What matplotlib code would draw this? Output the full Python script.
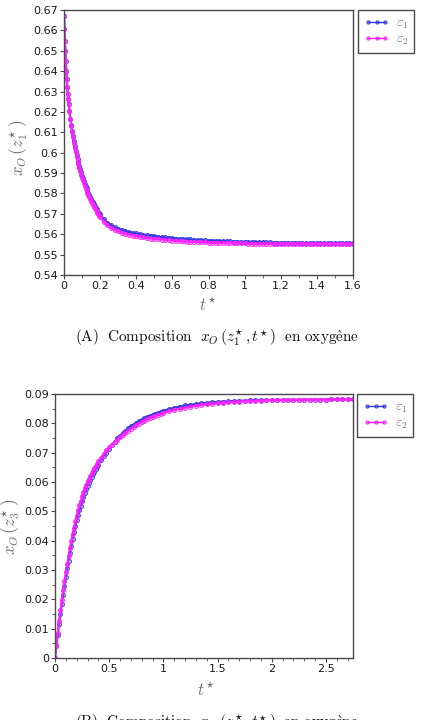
import matplotlib
matplotlib.use("Agg")
import matplotlib.pyplot as plt
from matplotlib.ticker import MultipleLocator, FuncFormatter

plt.rcParams['mathtext.fontset'] = 'cm'
plt.rcParams['font.family'] = ['DejaVu Sans']

# ---------------- data: panel (A) ----------------
t_top = [0, 0.0025, 0.005, 0.0075, 0.01, 0.0125, 0.015, 0.0175, 0.02, 0.0225, 0.025,
         0.03, 0.035, 0.04, 0.045, 0.05, 0.055, 0.06, 0.065, 0.07, 0.075, 0.08, 0.085,
         0.09, 0.095, 0.10, 0.105, 0.11, 0.115, 0.12, 0.125, 0.13, 0.135, 0.14, 0.145,
         0.15, 0.155, 0.16, 0.165, 0.17, 0.175, 0.18, 0.185, 0.19, 0.195, 0.20,
         0.22, 0.24, 0.26, 0.28, 0.30, 0.32, 0.34, 0.36, 0.38, 0.40,
         0.42, 0.44, 0.46, 0.48, 0.50,
         0.52, 0.54, 0.56, 0.58, 0.60, 0.62, 0.64, 0.66, 0.68, 0.70,
         0.72, 0.74, 0.76, 0.78, 0.80, 0.82, 0.84, 0.86, 0.88, 0.90,
         0.92, 0.94, 0.96, 0.98, 1.00, 1.02, 1.04, 1.06, 1.08, 1.10,
         1.12, 1.14, 1.16, 1.18, 1.20, 1.22, 1.24, 1.26, 1.28, 1.30,
         1.32, 1.34, 1.36, 1.38, 1.40, 1.42, 1.44,
         1.46, 1.48, 1.50, 1.52, 1.54, 1.56, 1.58, 1.60]

eps1_top = [.6670, .6605, .6550, .6497, .6450, .6403, .6360, .6323, .6290, .6264, .6241,
            .6206, .6167, .6137, .6107, .6081, .6055, .6031, .6009, .5989, .5969, .5951, .5934,
            .5919, .5903, .5888, .5874, .5861, .5848, .5836, .5825, .5814, .5803, .5793, .5783,
            .5774, .5765, .5756, .5747, .5739, .5731, .5724, .5717, .5710, .5703, .5697,
            .5675, .5657, .5645, .5635, .5628, .5621, .5616, .5611, .5607, .5604,
            .5601, .5598, .5595, .5593, .5591,
            .5588, .5586, .5584, .5582, .5581, .5579, .5578, .5577, .5576, .5575,
            .5573, .5572, .5571, .5570, .5569, .5569, .5568, .5567, .5567, .5566,
            .5565, .5564, .5564, .5563, .5563, .5562, .5562, .5562, .5561, .5561,
            .5560, .5560, .5559, .5559, .5559, .5559, .5559, .5558, .5558, .5558,
            .5557, .5557, .5557, .5557, .5557, .5557, .5557,
            .5556, .5556, .5556, .5556, .5556, .5556, .5556, .5556]

eps2_top = [.6670, .6605, .6550, .6497, .6450, .6403, .6360, .6323, .6290, .6263, .6239,
            .6204, .6165, .6133, .6103, .6075, .6049, .6025, .6003, .5981, .5961, .5943, .5926,
            .5909, .5893, .5878, .5864, .5849, .5836, .5824, .5813, .5802, .5791, .5781, .5771,
            .5762, .5753, .5744, .5735, .5727, .5719, .5712, .5705, .5698, .5691, .5685,
            .5661, .5643, .5631, .5621, .5614, .5607, .5602, .5597, .5593, .5590,
            .5587, .5584, .5581, .5579, .5577,
            .5576, .5574, .5572, .5570, .5569, .5567, .5566, .5565, .5564, .5563,
            .5563, .5562, .5561, .5560, .5559, .5559, .5558, .5557, .5557, .5556,
            .5556, .5556, .5556, .5555, .5555, .5554, .5554, .5554, .5553, .5553,
            .5553, .5553, .5553, .5553, .5553, .5553, .5553, .5553, .5553, .5553,
            .5553, .5553, .5553, .5553, .5553, .5553, .5553,
            .5552, .5552, .5552, .5552, .5552, .5552, .5552, .5552]

# ---------------- data: panel (B) ----------------
t_bot = [0, 0.0125, 0.025, 0.0375, 0.05, 0.0625, 0.075, 0.0875, 0.10, 0.1125, 0.125,
         0.1375, 0.15, 0.1625, 0.175, 0.1875, 0.20, 0.2125, 0.225, 0.2375, 0.25, 0.2625,
         0.275, 0.2875, 0.30, 0.3125, 0.325, 0.3375, 0.35, 0.3625, 0.375, 0.3875, 0.40,
         0.425, 0.45, 0.475, 0.50, 0.525, 0.55, 0.575,
         0.60, 0.625, 0.65, 0.675, 0.70, 0.725, 0.75, 0.775, 0.80, 0.825, 0.85, 0.875,
         0.90, 0.925, 0.95, 0.975, 1.00,
         1.05, 1.10, 1.15, 1.20, 1.25, 1.30, 1.35, 1.40, 1.45, 1.50, 1.55, 1.60,
         1.65, 1.70, 1.75, 1.80, 1.85, 1.90, 1.95, 2.00, 2.05, 2.10, 2.15, 2.20,
         2.25, 2.30, 2.35, 2.40, 2.45, 2.50, 2.55, 2.60, 2.65, 2.70, 2.75]

eps1_bot = [0.0, .00400, .00779, .01150, .01503, .01838, .02157, .02470, .02768, .03052, .03323,
            .03580, .03826, .04060, .04283, .04495, .04697, .04875, .05044, .05197, .05346, .05485,
            .05622, .05745, .05862, .05974, .06082, .06174, .06263, .06348, .06430, .06509, .06585,
            .06747, .06880, .07004, .07140, .07268, .07380, .07494,
            .07583, .07666, .07743, .07825, .07893, .07956, .08015, .08070, .08122, .08170, .08215, .08257,
            .08297, .08333, .08368, .08400, .08430,
            .08484, .08532, .08573, .08609, .08631, .08659, .08681, .08700, .08716, .08730, .08742, .08753,
            .08761, .08769, .08775, .08780, .08785, .08790, .08794, .08797, .08800, .08802, .08804, .08805,
            .08806, .08807, .08809, .08810, .08811, .08812, .08813, .08814, .08815, .08816, .08816]

eps2_bot = [0.0, .00440, .00859, .01250, .01623, .01978, .02317, .02630, .02928, .03212, .03483,
            .03740, .03986, .04220, .04443, .04655, .04857, .05035, .05204, .05357, .05506, .05645,
            .05782, .05905, .06022, .06114, .06202, .06294, .06383, .06468, .06550, .06629, .06705,
            .06827, .06960, .07084, .07180, .07268, .07360, .07434,
            .07523, .07606, .07683, .07745, .07813, .07876, .07935, .07990, .08042, .08090, .08135, .08177,
            .08217, .08253, .08288, .08320, .08350,
            .08404, .08452, .08493, .08529, .08571, .08599, .08625, .08648, .08668, .08686, .08702, .08717,
            .08729, .08741, .08751, .08760, .08767, .08774, .08780, .08785, .08790, .08794, .08798, .08801,
            .08804, .08807, .08809, .08810, .08811, .08812, .08813, .08814, .08815, .08816, .08816]

series_labels = [r"$\varepsilon_1$", r"$\varepsilon_2$"]
caption_a = r"$(\mathrm{A})\ \ \mathrm{Composition}\ \ x_O\,(z_1^{\!\star}, t^{\!\star})\ \ \mathrm{en\ oxyg\grave{e}ne}$"
caption_b = r"$(\mathrm{B})\ \ \mathrm{Composition}\ \ x_O\,(z_3^{\!\star}, t^{\!\star})\ \ \mathrm{en\ oxyg\grave{e}ne}$"

BLUE = "#3a3ae0"
MAG = "#ff22ff"
GREY = "#6e6e6e"
FRAME = "#4a4a4a"

W, H = 433, 720
fig = plt.figure(figsize=(W / 100, H / 100), dpi=100)

def px_axes(l, t, r, b):
    return fig.add_axes([l / W, 1 - b / H, (r - l) / W, (b - t) / H])

def fmt(v, pos):
    return f"{round(v, 6):g}"

def style(ax, xmaj, xmin, ymaj, ymin=None):
    for s in ax.spines.values():
        s.set_color(FRAME)
        s.set_linewidth(1.0)
    ax.xaxis.set_major_locator(MultipleLocator(xmaj))
    ax.xaxis.set_minor_locator(MultipleLocator(xmin))
    ax.yaxis.set_major_locator(MultipleLocator(ymaj))
    if ymin:
        ax.yaxis.set_minor_locator(MultipleLocator(ymin))
    ax.xaxis.set_major_formatter(FuncFormatter(fmt))
    ax.yaxis.set_major_formatter(FuncFormatter(fmt))
    ax.tick_params(which='major', direction='out', length=3, width=0.8, color=FRAME,
                   labelsize=8, labelcolor="#1a1a1a", pad=1.5)
    ax.tick_params(which='minor', direction='out', length=2, width=0.6, color=FRAME)
    ax.tick_params(top=False, right=False, which='both')

def draw(ax, t, y1, y2):
    kw = dict(marker='o', markersize=2.7, mfc='none', mew=0.8, lw=1.5)
    ax.plot(t, y1, color=BLUE, label=series_labels[0], **kw)
    ax.plot(t, y2, color=MAG, label=series_labels[1], **kw)

def legend(ax, x, y):
    leg = ax.legend(loc='upper left', bbox_to_anchor=(x / W, 1 - y / H),
                    bbox_transform=fig.transFigure, borderaxespad=0, fancybox=False,
                    edgecolor=FRAME, framealpha=1, fontsize=9.8, handlelength=1.9,
                    numpoints=3, labelspacing=0.05, borderpad=0.42, handletextpad=0.45,
                    labelcolor=GREY)
    leg.get_frame().set_linewidth(1.0)
    for h in leg.get_lines():
        h.set_linewidth(1.0)
        h.set_markersize(2.2)

# ---------- panel A ----------
ax1 = px_axes(64, 10, 353, 275)
draw(ax1, t_top, eps1_top, eps2_top)
ax1.set_xlim(0, 1.6)
ax1.set_ylim(0.54, 0.67)
style(ax1, 0.2, 0.1, 0.01)
ax1.set_ylabel(r"$x_O\,\left(z_1^{\!\star}\right)$", color=GREY, fontsize=12)
ax1.yaxis.set_label_coords(-0.118, 0.48)
ax1.set_xlabel(r"$t^{\!\star}$", color=GREY, fontsize=12)
ax1.xaxis.set_label_coords(0.498, -0.083)
legend(ax1, 358, 10)

fig.text(217 / W, 1 - 338 / H, caption_a, ha='center', va='center', fontsize=11, color="#111111")

# ---------- panel B ----------
ax2 = px_axes(55, 394, 353, 658)
draw(ax2, t_bot, eps1_bot, eps2_bot)
ax2.set_xlim(0, 2.75)
ax2.set_ylim(0, 0.09)
style(ax2, 0.5, 0.1, 0.01, 0.005)
ax2.set_ylabel(r"$x_O\,\left(z_3^{\!\star}\right)$", color=GREY, fontsize=12)
ax2.yaxis.set_label_coords(-0.111, 0.496)
ax2.set_xlabel(r"$t^{\!\star}$", color=GREY, fontsize=12)
ax2.xaxis.set_label_coords(0.507, -0.091)
legend(ax2, 357, 394)

fig.text(217 / W, 1 - 723 / H, caption_b, ha='center', va='center', fontsize=11, color="#111111")

fig.savefig("out.png", dpi=100)
